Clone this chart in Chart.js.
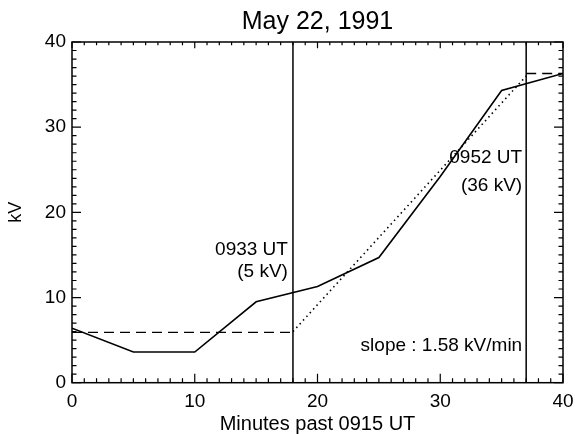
<!DOCTYPE html>
<html>
<head>
<meta charset="utf-8">
<script src="https://cdn.jsdelivr.net/npm/chart.js@4.4.0/dist/chart.umd.min.js"></script>
<style>
  html, body { margin: 0; padding: 0; background: #fff; }
  #wrap { width: 575px; height: 434px; }
</style>
</head>
<body>
<div id="wrap"><canvas id="myChart" width="575" height="434"></canvas></div>
<script>
// Datos
const minutes = [0, 5, 10, 15, 20, 25, 30, 35, 40];
const kv = [6.4, 3.6, 3.6, 9.5, 11.3, 14.7, 24.2, 34.3, 36.3];

// Niveles de referencia y ajuste lineal
const baseX = [0, 18];
const baseY = [5.9, 5.9];
const topX = [37, 40];
const topY = [36.3, 36.3];
const fitX = [18, 37];
const fitY = [6.0, 36.0];

// Lineas verticales (0933 UT y 0952 UT)
const markers = [18, 37];
const yRange = [0, 40];

const xTicks = [0, 10, 20, 30, 40];
const yTicks = [0, 10, 20, 30, 40];

const FONT = '"Liberation Sans", Arial, Helvetica, sans-serif';

const pts = (xs, ys) => xs.map((x, i) => ({ x: x, y: ys[i] }));

const ctx = document.getElementById('myChart').getContext('2d');

// Marco con marcas hacia dentro, titulo y textos anotados
const framePlugin = {
    id: 'frame',
    afterDatasetsDraw(chart) {
        const { ctx, chartArea } = chart;
        const xs = chart.scales.x;
        const ys = chart.scales.y;
        const { left, right, top, bottom } = chartArea;
        ctx.save();
        ctx.strokeStyle = '#000';
        ctx.lineWidth = 1.5;
        ctx.strokeRect(left, top, right - left, bottom - top);
        ctx.lineWidth = 1.2;
        ctx.beginPath();
        for (let v = 0; v <= 40; v++) {
            const major = v % 10 === 0;
            const len = major ? 9 : 4.5;
            const px = xs.getPixelForValue(v);
            ctx.moveTo(px, bottom); ctx.lineTo(px, bottom - len);
            ctx.moveTo(px, top); ctx.lineTo(px, top + len * 0.7);
            const py = ys.getPixelForValue(v);
            ctx.moveTo(left, py); ctx.lineTo(left + len, py);
            ctx.moveTo(right, py); ctx.lineTo(right - len, py);
        }
        ctx.stroke();

        ctx.fillStyle = '#000';
        ctx.textBaseline = 'middle';
        ctx.textAlign = 'center';
        ctx.font = '25px ' + FONT;
        ctx.fillText('May 22, 1991', (left + right) / 2, 22);

        ctx.font = '19px ' + FONT;
        ctx.textAlign = 'right';
        const x1 = xs.getPixelForValue(markers[0]) - 5;
        ctx.fillText('0933 UT', x1, ys.getPixelForValue(15.6));
        ctx.fillText('(5 kV)', x1, ys.getPixelForValue(13.0));
        const x2 = xs.getPixelForValue(markers[1]) - 4;
        ctx.fillText('0952 UT', x2, ys.getPixelForValue(26.4));
        ctx.fillText('(36 kV)', x2, ys.getPixelForValue(23.1));
        ctx.fillText('slope : 1.58 kV/min', x2, ys.getPixelForValue(4.3));
        ctx.restore();
    },
};

const lineStyle = { borderColor: '#000', pointRadius: 0, fill: false, tension: 0 };

new Chart(ctx, {
    type: 'line',
    data: {
        datasets: [
            { ...lineStyle, data: pts(minutes, kv), borderWidth: 1.6 },
            { ...lineStyle, data: pts(baseX, baseY), borderWidth: 1.3, borderDash: [10, 6] },
            { ...lineStyle, data: pts(topX, topY), borderWidth: 1.3, borderDash: [10, 6] },
            { ...lineStyle, data: pts(fitX, fitY), borderWidth: 1.6, borderDash: [1.5, 3.5] },
            { ...lineStyle, data: pts([markers[0], markers[0]], yRange), borderWidth: 1.5 },
            { ...lineStyle, data: pts([markers[1], markers[1]], yRange), borderWidth: 1.5 },
        ],
    },
    options: {
        responsive: false,
        animation: false,
        layout: { padding: { left: 0, right: 12, top: 42, bottom: 0 } },
        plugins: {
            legend: { display: false },
            tooltip: { enabled: false },
            title: { display: false },
        },
        scales: {
            x: {
                type: 'linear',
                min: 0,
                max: 40,
                grid: { display: false, drawTicks: false },
                border: { display: false },
                afterBuildTicks(scale) { scale.ticks = xTicks.map(v => ({ value: v })); },
                afterFit(scale) {
                    scale.height = 51.3;
                    scale.paddingLeft = 0;
                    scale.paddingRight = 0;
                },
                ticks: {
                    color: '#000',
                    padding: 8,
                    maxRotation: 0,
                    font: { family: FONT, size: 19 },
                },
                title: {
                    display: true,
                    text: 'Minutes past 0915 UT',
                    color: '#000',
                    font: { family: FONT, size: 20, lineHeight: 1 },
                    padding: { top: 0, bottom: 0 },
                },
            },
            y: {
                type: 'linear',
                min: yRange[0],
                max: yRange[1],
                grid: { display: false, drawTicks: false },
                border: { display: false },
                afterBuildTicks(scale) { scale.ticks = yTicks.map(v => ({ value: v })); },
                afterFit(scale) {
                    scale.width = 72;
                    scale.paddingTop = 0;
                    scale.paddingBottom = 0;
                },
                ticks: {
                    color: '#000',
                    padding: 6,
                    font: { family: FONT, size: 19 },
                },
                title: {
                    display: true,
                    text: 'kV',
                    color: '#000',
                    font: { family: FONT, size: 18, lineHeight: 1.2 },
                    padding: { top: 5, bottom: 0 },
                },
            },
        },
    },
    plugins: [framePlugin],
});
</script>
</body>
</html>
